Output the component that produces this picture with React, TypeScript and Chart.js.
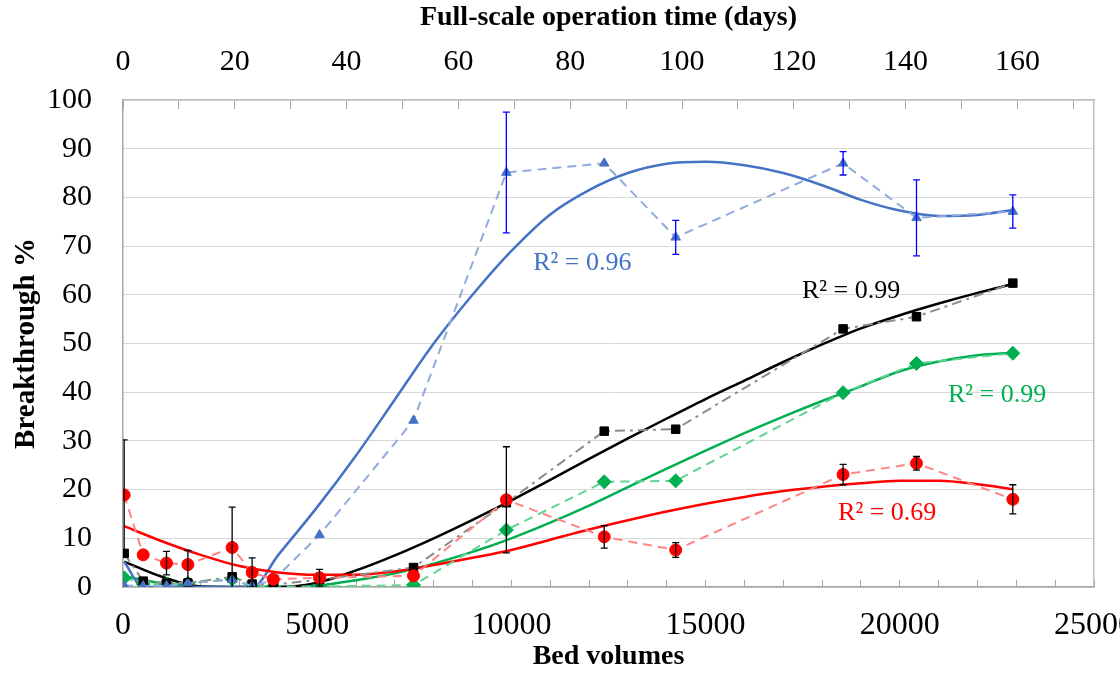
import React, { useEffect, useRef } from 'react';
import { Chart, registerables } from 'chart.js';

Chart.register(...registerables);

// ---------------- data ----------------
const bedVolumes = [30, 520, 1120, 1670, 2810, 3325, 3870, 5060, 7480, 9870, 12390, 14230, 18540, 20430, 22910];

const blueValues = [0.3, 0.2, 0.2, 0.8, 1.5, 0.2, 1.4, 10.7, 34.2, 85.1, 87.0, 71.8, 87.0, 75.8, 77.1];
const blueErrors = [0, 0, 0, 0, 0, 0, 0, 0, 0, 12.4, 0, 3.5, 2.4, 7.8, 3.4];
const blackValues = [6.9, 1.2, 0.8, 0.8, 2.1, 0.6, 0.5, 1.5, 4.0, 17.3, 32.0, 32.4, 53.0, 55.5, 62.4];
const greenValues = [1.9, 0.6, 0.6, 0.8, 1.6, 0.1, 0.1, 0.1, 0.4, 11.7, 21.6, 21.8, 39.9, 45.9, 48.0];
const redValues = [18.9, 6.6, 4.9, 4.6, 8.1, 3.0, 1.6, 1.9, 2.3, 17.9, 10.3, 7.6, 23.1, 25.4, 18.0];
const redErrors = [11.3, 0, 2.4, 2.9, 8.3, 3.0, 0, 1.7, 0, 10.9, 2.3, 1.5, 2.1, 1.4, 3.0];

// trendlines
const trendX = [30, 1000, 2000, 3000, 4000, 5000, 6000, 7000, 8000, 9000, 10000, 11000, 12000, 13000, 14000, 15000, 16000, 17000, 18000, 19000, 20000, 21000, 22000, 22910];
const blueTrendX = [30, 520, 1000, 2000, 3000, 3330, 4000, 5000, 6000, 7000, 8000, 9000, 10000, 11000, 12000, 13000, 14000, 15000, 16000, 17000, 18000, 19000, 20000, 21000, 22000, 22910];
const blueTrendY = [5.2, 0, 0, 0, 0, 0, 6.6, 16.4, 27.0, 38.5, 50.0, 60.0, 69.0, 76.5, 81.5, 85.0, 86.9, 87.3, 86.6, 85.0, 82.5, 79.5, 77.3, 76.2, 76.4, 77.4];
const blackTrendY = [5.2, 2.1, 0.1, 0, 0, 0.9, 3.4, 6.5, 10.0, 13.8, 17.8, 22.0, 26.3, 30.5, 34.6, 38.6, 42.4, 46.2, 49.8, 53.1, 55.8, 58.2, 60.4, 62.2];
const greenTrendY = [2.2, 0.8, 0.05, 0, 0, 0.3, 1.4, 2.8, 4.8, 7.2, 10.0, 13.2, 16.7, 20.5, 24.3, 28.0, 31.6, 35.0, 38.2, 41.2, 44.3, 46.3, 47.6, 48.1];
const redTrendY = [12.5, 9.4, 6.6, 4.3, 3.0, 2.5, 2.5, 3.2, 4.5, 6.0, 7.6, 9.7, 11.8, 13.7, 15.5, 17.1, 18.5, 19.7, 20.6, 21.3, 21.8, 21.8, 21.1, 20.1];

// axis ranges / ticks
const bedVolumeMax = 25000;
const bedVolumeMinorStep = 1000;
const bedVolumeLabelStep = 5000;
const daysMax = 173.7;
const daysMinorStep = 10;
const daysLabelStep = 20;
const percentMax = 100;
const percentStep = 10;

const r2Labels = [
  { text: 'R² = 0.96', x: 10560, y: 66.5, color: '#4472C4' },
  { text: 'R² = 0.99', x: 17480, y: 60.8, color: '#000000' },
  { text: 'R² = 0.99', x: 21240, y: 39.4, color: '#00B050' },
  { text: 'R² = 0.69', x: 18410, y: 15.2, color: '#FF0000' },
];

const FONT = "'Liberation Serif', 'Times New Roman', serif";

const pts = (xs: number[], ys: number[]) => xs.map((x, i) => ({ x, y: ys[i] }));

const errorBarPlugin = {
  id: 'errorBars',
  afterDatasetsDraw(chart: any) {
    const { ctx, chartArea } = chart;
    const xs = chart.scales.x;
    const ys = chart.scales.y;
    ctx.save();
    ctx.beginPath();
    ctx.rect(chartArea.left, chartArea.top, chartArea.right - chartArea.left, chartArea.bottom - chartArea.top);
    ctx.clip();
    chart.data.datasets.forEach((ds: any) => {
      const errs: number[] | undefined = ds.errorValues;
      if (!errs) return;
      ctx.strokeStyle = ds.errorColor;
      ctx.lineWidth = 1.3;
      ds.data.forEach((p: any, j: number) => {
        const e = errs[j];
        if (!e) return;
        const px = xs.getPixelForValue(p.x);
        const top = ys.getPixelForValue(p.y + e);
        const bot = ys.getPixelForValue(p.y - e);
        ctx.beginPath();
        ctx.moveTo(px, top);
        ctx.lineTo(px, bot);
        ctx.moveTo(px - 3.5, top);
        ctx.lineTo(px + 3.5, top);
        ctx.moveTo(px - 3.5, bot);
        ctx.lineTo(px + 3.5, bot);
        ctx.stroke();
      });
    });
    ctx.restore();
  },
};

const r2Plugin = {
  id: 'r2Labels',
  afterDatasetsDraw(chart: any) {
    const { ctx } = chart;
    const xs = chart.scales.x;
    const ys = chart.scales.y;
    ctx.save();
    ctx.font = `26px ${FONT}`;
    ctx.textAlign = 'left';
    ctx.textBaseline = 'middle';
    r2Labels.forEach((l) => {
      ctx.fillStyle = l.color;
      ctx.fillText(l.text, xs.getPixelForValue(l.x), ys.getPixelForValue(l.y));
    });
    ctx.restore();
  },
};

export default function App() {
  const ref = useRef<HTMLCanvasElement | null>(null);

  useEffect(() => {
    if (!ref.current) return;
    Chart.defaults.font.family = FONT;
    Chart.defaults.color = '#000';

    const dataLine = (label: string, ys: number[], color: string, lineColor: string, style: string, radius: number, dash: number[]) => ({
      label,
      data: pts(bedVolumes, ys),
      borderColor: lineColor,
      borderWidth: 2,
      borderDash: dash,
      backgroundColor: color,
      pointStyle: style,
      pointRadius: radius,
      pointHoverRadius: radius,
      pointBackgroundColor: color,
      pointBorderColor: color,
      pointBorderWidth: 1,
      tension: 0,
      fill: false,
      showLine: true,
    });

    const trend = (label: string, xs: number[], ys: number[], color: string) => ({
      label,
      data: pts(xs, ys),
      borderColor: color,
      borderWidth: 2.5,
      pointRadius: 0,
      pointHoverRadius: 0,
      cubicInterpolationMode: 'monotone',
      fill: false,
      showLine: true,
    });

    const chart = new Chart(ref.current, {
      type: 'line',
      data: {
        datasets: [
          { ...dataLine('Red', redValues, '#FF0000', '#FF8585', 'circle', 6, [9, 6]), errorValues: redErrors, errorColor: '#000000' },
          { ...dataLine('Blue', blueValues, '#4472C4', '#8FAADC', 'triangle', 5.5, [9, 6]), errorValues: blueErrors, errorColor: '#0000FF' },
          dataLine('Black', blackValues, '#000000', '#8C8C8C', 'rect', 6, [10, 5, 3, 5]),
          dataLine('Green', greenValues, '#00B050', '#66D196', 'rectRot', 7, [9, 6]),
          trend('Red trend', trendX, redTrendY, '#FF0000'),
          trend('Blue trend', blueTrendX, blueTrendY, '#4472C4'),
          trend('Black trend', trendX, blackTrendY, '#000000'),
          trend('Green trend', trendX, greenTrendY, '#00B050'),
        ] as any,
      },
      options: {
        responsive: false,
        animation: false,
        events: [],
        layout: { padding: 0 },
        plugins: { legend: { display: false }, tooltip: { enabled: false } },
        scales: {
          x: {
            type: 'linear',
            position: 'bottom',
            min: 0,
            max: bedVolumeMax,
            ticks: {
              stepSize: bedVolumeMinorStep,
              autoSkip: false,
              maxRotation: 0,
              includeBounds: false,
              font: { size: 32 },
              color: '#000',
              padding: 26,
              callback: (v: any) => (Math.round(v) % bedVolumeLabelStep === 0 ? String(Math.round(v)) : ''),
            },
            grid: { drawOnChartArea: false, drawTicks: true, tickLength: -7, tickColor: '#A6A6A6', tickWidth: 1 },
            border: { color: '#A6A6A6', width: 1.5 },
            title: { display: true, text: 'Bed volumes', font: { size: 28, weight: 'bold' }, color: '#000', padding: { top: 0, bottom: 6 } },
            afterFit: (s: any) => { s.height = 93; s.paddingLeft = 0; s.paddingRight = 0; },
          },
          x2: {
            type: 'linear',
            position: 'top',
            display: true,
            min: 0,
            max: daysMax,
            ticks: {
              stepSize: daysMinorStep,
              autoSkip: false,
              maxRotation: 0,
              includeBounds: false,
              font: { size: 30 },
              color: '#000',
              padding: 29,
              callback: (v: any) => (Math.round(v) % daysLabelStep === 0 ? String(Math.round(v)) : ''),
            },
            grid: { drawOnChartArea: false, drawTicks: true, tickLength: -9, tickColor: '#A6A6A6', tickWidth: 1 },
            border: { color: '#BFBFBF', width: 1.5 },
            title: { display: true, text: 'Full-scale operation time (days)', font: { size: 28, weight: 'bold' }, color: '#000', padding: { top: 1, bottom: 0 } },
            afterFit: (s: any) => { s.height = 100; s.paddingLeft = 0; s.paddingRight = 0; },
          },
          y: {
            type: 'linear',
            position: 'left',
            min: 0,
            max: percentMax,
            ticks: { stepSize: percentStep, font: { size: 30 }, color: '#000', padding: 31 },
            grid: { color: '#D9D9D9', lineWidth: 1, drawTicks: false },
            border: { color: '#A6A6A6', width: 1.5 },
            title: { display: true, text: 'Breakthrough %', font: { size: 29, weight: 'bold' }, color: '#000', padding: { top: 9, bottom: 0 } },
            afterFit: (s: any) => { s.width = 123; s.paddingTop = 0; s.paddingBottom = 0; },
          },
          y2: {
            type: 'linear',
            position: 'right',
            display: true,
            min: 0,
            max: percentMax,
            ticks: { display: false },
            grid: { drawOnChartArea: false, drawTicks: false },
            border: { display: true, color: '#BFBFBF', width: 1.5 },
            afterFit: (s: any) => { s.width = 26; s.paddingTop = 0; s.paddingBottom = 0; },
          },
        },
      } as any,
      plugins: [errorBarPlugin, r2Plugin],
    });

    return () => chart.destroy();
  }, []);

  return (
    <div style={{ position: 'absolute', left: 0, top: 0, width: 1120, height: 680, background: '#fff' }}>
      <canvas ref={ref} width={1120} height={680} style={{ display: 'block' }} />
    </div>
  );
}
